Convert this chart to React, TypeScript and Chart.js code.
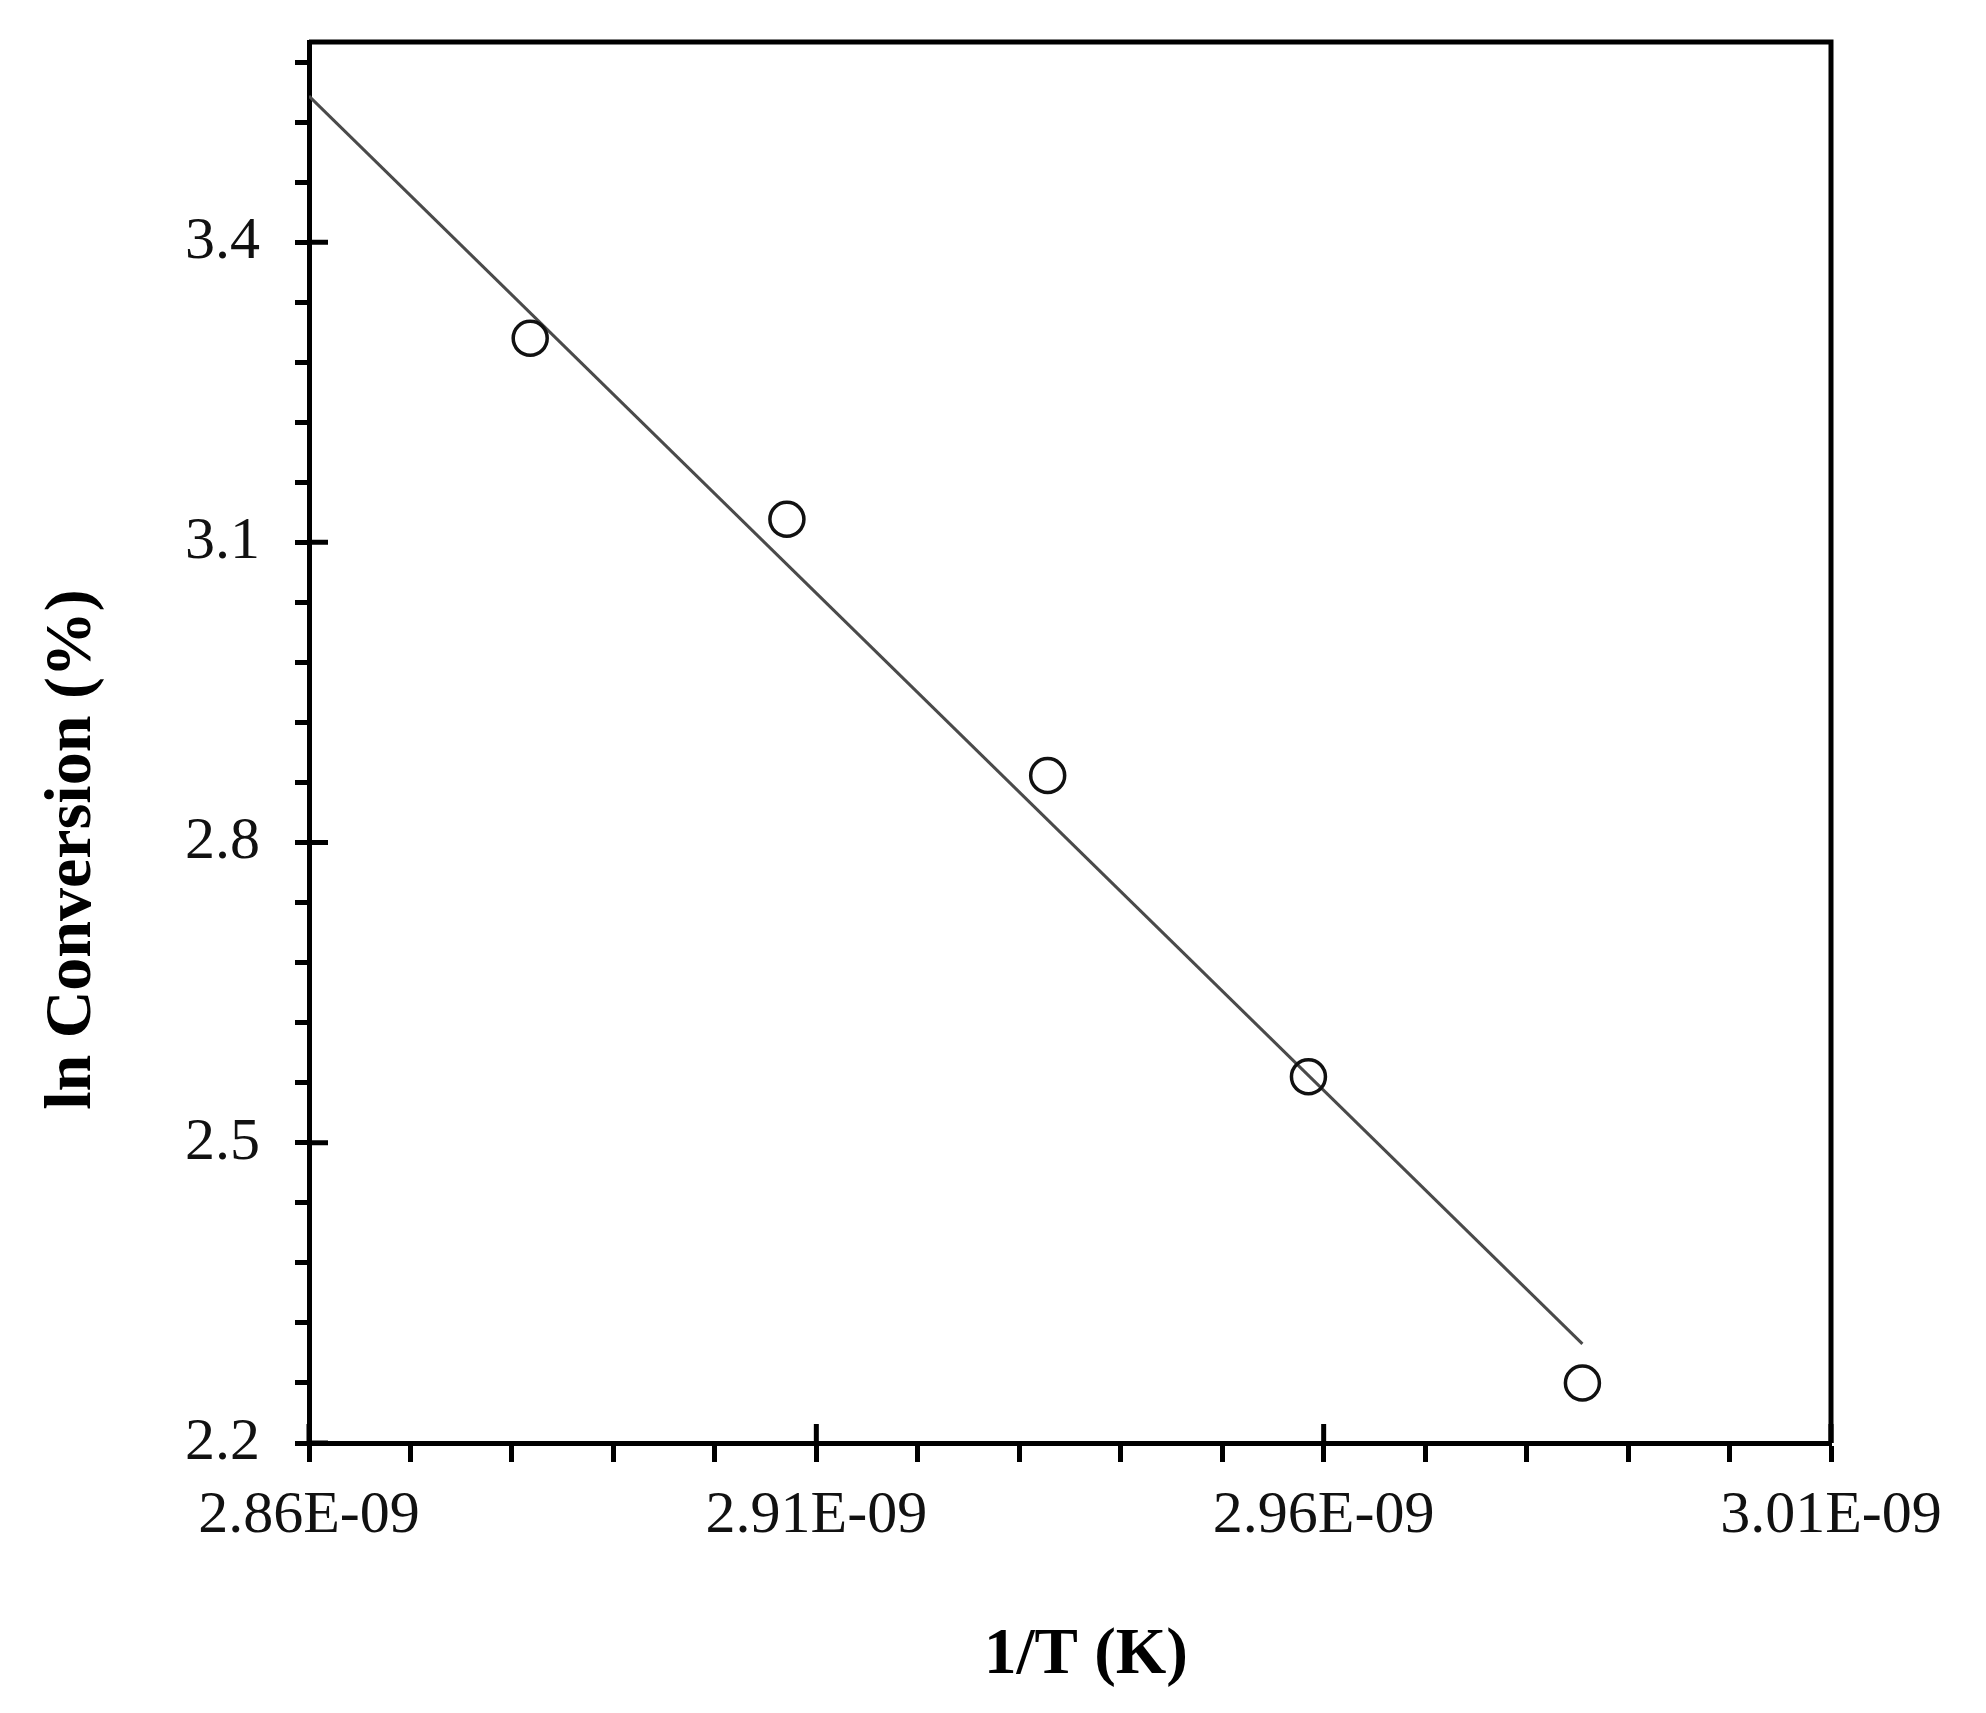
import { useEffect, useRef } from "react";
import { Chart, registerables } from "chart.js";

Chart.register(...registerables);

// 1/T in units of 1E-09 K^-1, ln conversion
const INV_T = [2.8818, 2.9071, 2.9328, 2.9585, 2.9855];
const LN_CONV = [3.304, 3.123, 2.867, 2.566, 2.26];

// linear fit drawn in the figure (end points)
const FIT_X = [2.86, 2.9855];
const FIT_Y = [3.546, 2.299];

const X_MAJOR = [2.86, 2.91, 2.96, 3.01];
const X_LABELS = ["2.86E-09", "2.91E-09", "2.96E-09", "3.01E-09"];
const X_MINOR_STEP = 0.01;
const Y_MAJOR = [2.2, 2.5, 2.8, 3.1, 3.4];
const Y_LABELS = ["2.2", "2.5", "2.8", "3.1", "3.4"];
const Y_MINOR_STEP = 0.06;

const X_TITLE = "1/T (K)";
const Y_TITLE = "ln Conversion (%)";

const FONT = "'Liberation Serif', 'Times New Roman', serif";

function stepTicks(min: number, max: number, step: number) {
  const out: { value: number }[] = [];
  const n = Math.round((max - min) / step);
  for (let i = 0; i <= n; i++) {
    const v = Math.round((min + i * step) * 1000) / 1000;
    if (v <= max + 1e-9) out.push({ value: v });
  }
  return out;
}

function labelFor(list: number[], labels: string[], v: number) {
  const i = list.findIndex((m) => Math.abs(m - v) < 1e-6);
  return i >= 0 ? labels[i] : "";
}

const framePlugin = {
  id: "frame",
  afterDraw(chart: any) {
    const { ctx, chartArea: a, scales } = chart;
    ctx.save();
    ctx.strokeStyle = "#000";
    ctx.lineWidth = 5;
    ctx.beginPath();
    ctx.moveTo(a.left, a.top);
    ctx.lineTo(a.right, a.top);
    ctx.lineTo(a.right, a.bottom);
    ctx.stroke();
    // inner part of the major ticks
    ctx.beginPath();
    X_MAJOR.forEach((v) => {
      const px = scales.x.getPixelForValue(v);
      ctx.moveTo(px, a.bottom);
      ctx.lineTo(px, a.bottom - 19);
    });
    Y_MAJOR.forEach((v) => {
      const py = scales.y.getPixelForValue(v);
      ctx.moveTo(a.left, py);
      ctx.lineTo(a.left + 19, py);
    });
    ctx.stroke();
    // axis titles
    ctx.fillStyle = "#000";
    ctx.font = `bold 65px ${FONT}`;
    ctx.textAlign = "center";
    ctx.textBaseline = "middle";
    ctx.fillText(X_TITLE, (a.left + a.right) / 2 + 16, 1656);
    ctx.translate(73, (a.top + a.bottom) / 2 + 107);
    ctx.rotate(-Math.PI / 2);
    ctx.font = `bold 66px ${FONT}`;
    ctx.fillText(Y_TITLE, 0, 0);
    ctx.restore();
  },
};

export default function App() {
  const canvasRef = useRef<HTMLCanvasElement>(null);

  useEffect(() => {
    if (!canvasRef.current) return;
    const chart = new Chart(canvasRef.current, {
      type: "scatter",
      data: {
        datasets: [
          {
            label: "fit",
            data: FIT_X.map((x, i) => ({ x, y: FIT_Y[i] })),
            showLine: true,
            borderColor: "#4a4a4a",
            borderWidth: 3,
            pointRadius: 0,
            order: 2,
          },
          {
            label: "data",
            data: INV_T.map((x, i) => ({ x, y: LN_CONV[i] })),
            pointRadius: 17,
            pointBorderWidth: 3.5,
            pointBorderColor: "#111",
            pointBackgroundColor: "rgba(0,0,0,0)",
            order: 1,
          },
        ],
      },
      options: {
        animation: false,
        responsive: true,
        maintainAspectRatio: false,
        layout: { padding: { top: 42, right: 155, left: 0, bottom: 0 } },
        plugins: {
          legend: { display: false },
          tooltip: { enabled: false },
        },
        scales: {
          x: {
            type: "linear",
            min: 2.86,
            max: 3.01,
            afterBuildTicks: (s: any) => {
              s.ticks = stepTicks(2.86, 3.01, X_MINOR_STEP);
            },
            afterFit: (s: any) => {
              s.height = 270;
              s.paddingLeft = 0;
              s.paddingRight = 0;
            },
            grid: {
              drawOnChartArea: false,
              tickLength: 19,
              tickWidth: 5,
              tickColor: "#000",
            },
            border: { display: true, color: "#000", width: 5 },
            ticks: {
              autoSkip: false,
              maxRotation: 0,
              padding: 18,
              color: "#111",
              font: { family: FONT, size: 60 },
              callback: (v: any) => labelFor(X_MAJOR, X_LABELS, Number(v)),
            },
          },
          y: {
            type: "linear",
            min: 2.2,
            max: 3.6,
            afterBuildTicks: (s: any) => {
              s.ticks = stepTicks(2.2, 3.58, Y_MINOR_STEP);
            },
            afterFit: (s: any) => {
              s.width = 309;
              s.paddingTop = 0;
              s.paddingBottom = 0;
            },
            grid: {
              drawOnChartArea: false,
              tickLength: 14,
              tickWidth: 5,
              tickColor: "#000",
            },
            border: { display: true, color: "#000", width: 5 },
            ticks: {
              autoSkip: false,
              padding: 35,
              color: "#111",
              font: { family: FONT, size: 60 },
              callback: (v: any) => labelFor(Y_MAJOR, Y_LABELS, Number(v)),
            },
          },
        },
      },
      plugins: [framePlugin],
    });
    return () => chart.destroy();
  }, []);

  return (
    <div style={{ position: "absolute", left: 0, top: 0, width: 1986, height: 1713, background: "#fff" }}>
      <canvas ref={canvasRef} />
    </div>
  );
}
